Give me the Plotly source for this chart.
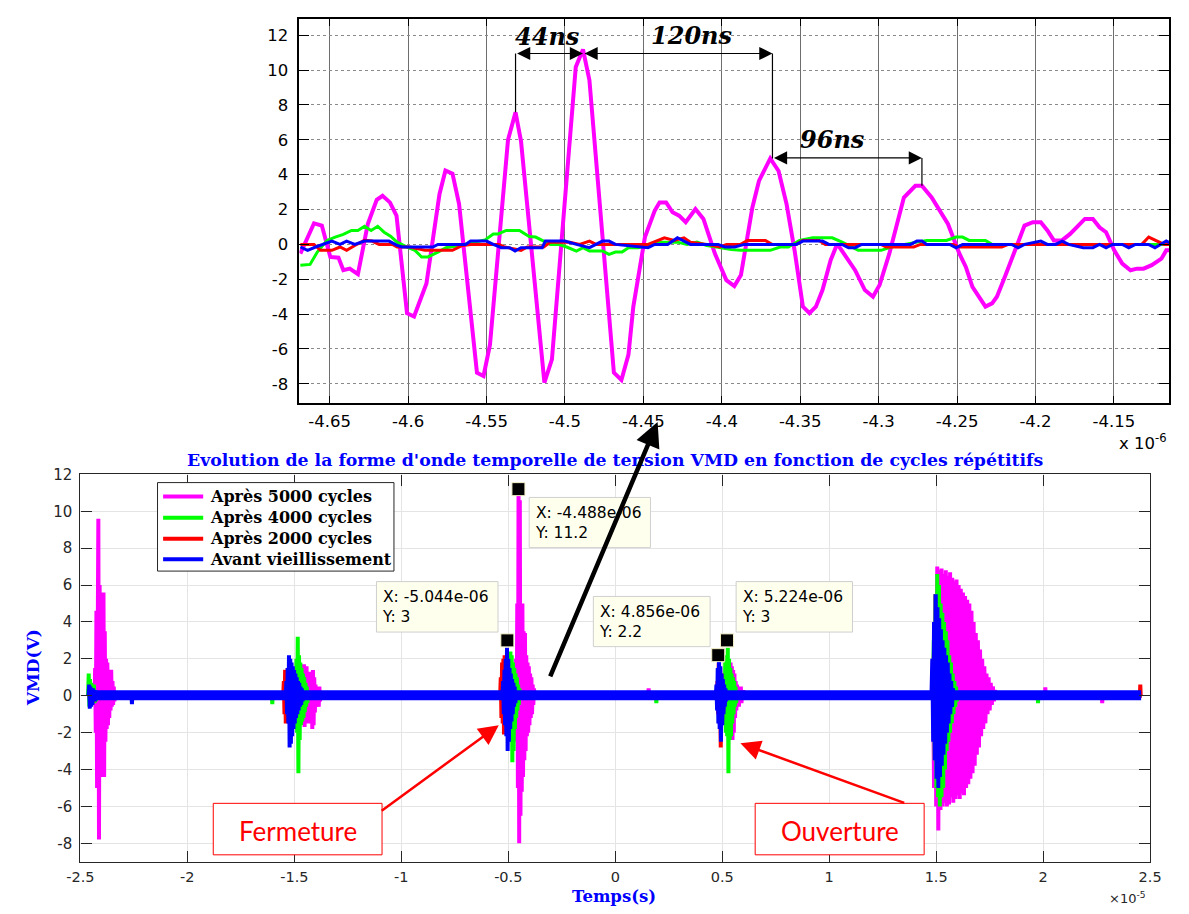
import plotly.graph_objects as go

# the page keeps the browser's default 8px body margin: the figure is sized so the page is 1189x914
OFF = 8
W, H = 1189 - 2 * OFF, 914 - 2 * OFF

# ------------------------------------------------------------------
# Bottom chart data  (time in units of 1e-5 s, VMD in volts)
# ------------------------------------------------------------------
names = ["Après 5000 cycles", "Après 4000 cycles", "Après 2000 cycles", "Avant vieillissement"]
colors = ["#FF00FF", "#00FF00", "#FF0000", "#0000FF"]

t_first, t_last = -2.466, 2.458

pink_A = (-2.440, 0.003, [0, 0.6, -0.5, 1.5, -2.0, 4.6, -5.0, 3.0, 9.6, -7.8, 6.0, -3.5, 4.8, -4.0, 5.0,
                          -4.4, 5.6, -4.4, 3.5, -2.5, 2.0, -1.8, 1.8, -1.6, 1.2, -1.2, 1.0, -0.8, 1.4, -0.6,
                          0.8, -0.5, 0.5, -0.3, 0])
pink_B = (-1.470, 0.003, [0, 0.6, -0.8, 1.2, -1.5, 1.7, -1.7, 1.5, -1.4, 1.6, -1.2, 1.0, -1.5, 1.3, -1.0,
                          0.8, -1.2, 1.2, -1.8, 1.4, -1.6, 1.0, -0.9, 0.6, -0.5, 0.5, -0.4, 0.3, -0.6, 0.5,
                          -0.3, 0.2, 0])
pink_C = (-0.479, 0.003, [0, 0.4, -0.8, 1.2, -1.5, 2.0, -2.5, 5.0, -5.0, 11.2, -8.0, 10.6, -6.5, 5.0, -5.2,
                          5.0, -4.4, 3.5, -3.5, 3.4, -3.0, 2.2, -2.2, 1.8, -2.0, 1.6, -1.6, 1.2, -1.2, 1.0,
                          -1.0, 0.6, -0.5, 0.4, 0])
pink_D = (0.530, 0.003, [0, 0.8, -1.0, 1.8, -1.5, 1.6, -2.4, 1.4, -2.0, 1.2, -1.2, 0.8, -0.8, 0.6, -0.5,
                         0.5, -0.6, 0.4, -0.3, 0.5, -0.4, 0.3, -0.2, 0.3, 0])
pink_E = (1.480, 0.005, [0, 2.0, -5.0, 5.5, -6.0, 7.0, -7.3, 6.8, -6.2, 6.9, -6.0, 6.6, -5.8, 6.8, -6.0, 6.5,
                         -5.9, 6.7, -5.5, 6.4, -5.8, 6.2, -5.6, 6.3, -5.4, 6.0, -5.6, 5.8, -5.3, 5.6, -5.4,
                         5.4, -5.0, 5.2, -4.8, 5.0, -4.5, 4.6, -4.2, 4.0, -3.8, 3.4, -3.2, 3.0, -2.8, 2.5,
                         -2.2, 2.0, -1.8, 1.6, -1.5, 1.2, -1.0, 1.0, -0.8, 0.7, -0.5, 0.5, -0.3, 0.3, 0])
pink_specks = [(0.154, 0.002, [0, 0.4, 0]), (2.008, 0.002, [0, 0.45, 0]), (2.274, 0.002, [0, -0.4, 0])]

green_A = (-2.464, 0.003, [0, 1.2, -0.6, 0.9, -0.5, 0.7, -0.4, 0.5, -0.3, 0.6, -0.4, 0.3, -0.3, 0.2, 0])
green_B = (-1.505, 0.003, [0, 0.8, -1.0, 1.5, -1.8, 2.0, -2.0, 3.2, -4.2, 2.2, -2.4, 1.8, -1.6, 1.5, -1.4,
                           1.2, -1.2, 1.0, -0.9, 0.7, -0.6, 0.5, -0.4, 0])
green_C = (-0.505, 0.003, [0, 1.0, -1.2, 2.0, -2.0, 2.4, -2.5, 2.2, -3.6, 1.8, -3.0, 1.5, -1.8, 1.2, -1.2,
                           1.0, -0.8, 0.6, -0.5, 0.4, 0])
green_D = (0.505, 0.003, [0, 1.0, -1.2, 1.8, -2.0, 2.2, -2.2, 2.6, -4.2, 2.0, -2.4, 1.5, -2.2, 1.2, -1.5,
                          1.0, -1.0, 0.8, -0.6, 0.5, -0.4, 0])
green_E = (1.485, 0.004, [0, 3.0, -3.5, 5.5, -5.0, 6.6, -5.5, 6.0, -6.0, 5.0, -5.5, 4.5, -5.0, 4.0, -4.0,
                          3.5, -3.0, 3.0, -2.5, 2.2, -2.0, 1.8, -1.5, 1.2, -1.0, 0.8, -0.6, 0.5, -0.3, 0])
green_specks = [(-1.605, 0.002, [0, -0.45, 0]), (0.190, 0.002, [0, -0.4, 0]), (1.974, 0.002, [0, -0.4, 0])]

red_A = (-2.460, 0.004, [0, 0.5, -0.5, 0.4, -0.4, 0.3, -0.3, 0])
red_B = (-1.552, 0.003, [0, 0.8, -1.0, 1.4, -1.5, 1.2, -1.3, 1.5, -1.4, 1.0, -1.2, 0.8, -0.8, 0.6, -0.5,
                         0.4, -0.3, 0])
red_C = (-0.538, 0.003, [0, 1.0, -1.2, 1.8, -1.5, 2.0, -2.1, 2.2, -1.8, 1.5, -1.4, 1.0, -1.0, 0.7, -0.5,
                         0.4, -0.3, 0])
red_D = (0.475, 0.003, [0, 0.8, -1.0, 1.8, -1.5, 1.5, -2.8, 1.2, -1.5, 0.8, -0.8, 0.5, -0.4, 0])
red_E = (1.486, 0.004, [0, 2.5, -2.0, 4.0, -3.0, 3.5, -2.8, 3.0, -2.6, 2.8, -2.2, 2.4, -2.0, 2.0, -1.8,
                        1.6, -1.4, 1.2, -1.0, 0.8, -0.6, 0.4, 0])
red_specks = [(2.452, 0.002, [0, 0.6, 0])]

blue_A = (-2.462, 0.003, [0, 0.6, -0.7, 0.5, -0.6, 0.4, -0.5, 0.4, -0.3, 0.3, -0.3, 0])
blue_B = (-1.540, 0.003, [0, 0.8, -1.0, 1.5, -1.5, 2.2, -2.8, 2.0, -2.6, 1.8, -2.2, 1.6, -1.8, 1.4, -1.5,
                          1.2, -1.2, 1.0, -1.0, 0.8, -0.8, 0.7, -0.6, 0.5, -0.5, 0.4, -0.3, 0])
blue_C = (-0.527, 0.003, [0, 0.8, -1.0, 1.4, -1.6, 2.0, -2.2, 2.6, -3.0, 2.0, -2.5, 1.5, -1.8, 1.2, -1.4,
                          0.9, -1.0, 0.7, -0.6, 0.5, -0.4, 0])
blue_D = (0.470, 0.003, [0, 0.6, -0.8, 1.5, -1.5, 2.2, -1.8, 1.6, -2.5, 1.2, -1.6, 0.9, -1.0, 0.6, -0.6,
                         0.4, -0.3, 0])
blue_E = (1.478, 0.004, [0, 2.0, -2.5, 4.0, -3.5, 5.5, -4.5, 4.8, -5.0, 4.2, -4.4, 3.6, -3.8, 3.0, -3.2,
                         2.6, -2.6, 2.2, -2.0, 1.8, -1.5, 1.2, -1.0, 0.8, -0.6, 0.4, 0])
blue_specks = [(-2.261, 0.002, [0, -0.45, 0])]

# dense baseline noise band (about -0.25 V .. +0.3 V), drawn as one thick stroke
band_t = [-2.462, 2.458]
band_v = [0.02, 0.02]

# data-tip markers and their labels
tip_t = [-0.4525, -0.5044, 0.4813, 0.5224]
tip_v = [11.2, 3.0, 2.2, 3.0]
tip_text = ["X: -4.488e-06<br>Y: 11.2", "X: -5.044e-06<br>Y: 3",
            "X: 4.856e-06<br>Y: 2.2", "X: 5.224e-06<br>Y: 3"]

x_ticks = [-2.5, -2, -1.5, -1, -0.5, 0, 0.5, 1, 1.5, 2, 2.5]
x_ticktext = ["-2.5", "-2", "-1.5", "-1", "-0.5", "0", "0.5", "1", "1.5", "2", "2.5"]
y_ticks = [-8, -6, -4, -2, 0, 2, 4, 6, 8, 10, 12]
y_ticktext = ["-8", "-6", "-4", "-2", "0", "2", "4", "6", "8", "10", "12"]

# ------------------------------------------------------------------
# Inset (zoom) data  (time in microseconds, VMD in volts)
# ------------------------------------------------------------------
pink_in_t = [-4.6687, -4.6600, -4.6550, -4.6496, -4.6444, -4.6413, -4.6372, -4.6320, -4.6257, -4.6200,
             -4.6163, -4.6116, -4.6074, -4.6007, -4.5962, -4.5883, -4.5800, -4.5762, -4.5717, -4.5675,
             -4.5561, -4.5519, -4.5478, -4.5363, -4.5315, -4.5280, -4.5131, -4.5083, -4.4931, -4.4885,
             -4.4844, -4.4688, -4.4640, -4.4595, -4.4564, -4.4490, -4.4428, -4.4397, -4.4355, -4.4314,
             -4.4272, -4.4230, -4.4168, -4.4117, -4.4044, -4.3971, -4.3920, -4.3878, -4.3805, -4.3763,
             -4.3691, -4.3638, -4.3587, -4.3535, -4.3483, -4.3441, -4.3400, -4.3358, -4.3306, -4.3264,
             -4.3150, -4.3088, -4.3036, -4.2994, -4.2932, -4.2839, -4.2766, -4.2724, -4.2662, -4.2600,
             -4.2558, -4.2485, -4.2444, -4.2402, -4.2360, -4.2319, -4.2277, -4.2246, -4.2195, -4.2132,
             -4.2070, -4.2017, -4.1966, -4.1924, -4.1883, -4.1831, -4.1779, -4.1727, -4.1685, -4.1634,
             -4.1592, -4.1550, -4.1498, -4.1447, -4.1394, -4.1353, -4.1311, -4.1259, -4.1197, -4.1166,
             -4.1124]
pink_in_v = [-0.53, 1.21, 1.08, -0.72, -0.76, -1.48, -1.39, -1.71, 1.17, 2.56,
             2.79, 2.41, 1.65, -3.95, -4.14, -2.24, 2.88, 4.24, 4.06, 2.31,
             -7.36, -7.55, -5.75, 6.00, 7.58, 5.91, -7.93, -6.60, 10.18, 11.18,
             9.42, -7.36, -7.78, -6.32, -3.57, 0.42, 1.93, 2.41, 2.41, 1.84,
             1.65, 1.27, 2.03, 1.46, -0.53, -2.05, -2.39, -1.76, 2.12, 3.64,
             4.93, 4.21, 2.31, -0.40, -3.57, -3.95, -3.57, -2.62, -0.91, 0.03,
             -1.48, -2.62, -3.00, -2.33, -0.53, 2.69, 3.36, 3.36, 2.69, 1.74,
             1.17, -0.53, -1.29, -2.43, -3.00, -3.57, -3.38, -3.00, -1.86, -0.34,
             1.08, 1.27, 1.27, 0.80, 0.23, 0.23, 0.60, 1.08, 1.46, 1.46,
             0.98, 0.70, -0.34, -1.10, -1.48, -1.39, -1.39, -1.19, -0.82, -0.34,
             -0.34]

green_in_t = [-4.6687, -4.6625, -4.6579, -4.6517, -4.6465, -4.6413, -4.6361, -4.6320, -4.6278, -4.6236,
              -4.6194, -4.6153, -4.6112, -4.6070, -4.6007, -4.5956, -4.5914, -4.5873, -4.5810, -4.5758,
              -4.5675, -4.5571, -4.5509, -4.5457, -4.5426, -4.5374, -4.5290, -4.5228, -4.5187, -4.5145,
              -4.5093, -4.5041, -4.4989, -4.4927, -4.4885, -4.4844, -4.4761, -4.4719, -4.4678, -4.4636,
              -4.4595, -4.4532, -4.4449, -4.4386, -4.4283, -4.4221, -4.4158, -4.4096, -4.4034, -4.3940,
              -4.3878, -4.3691, -4.3628, -4.3576, -4.3504, -4.3420, -4.3296, -4.3233, -4.3130, -4.2984,
              -4.2921, -4.2818, -4.2756, -4.2693, -4.2568, -4.2506, -4.2465, -4.2423, -4.2319, -4.2277,
              -4.1124]
green_in_v = [-1.20, -1.15, -0.44, 0.23, 0.42, 0.57, 0.80, 0.80, 1.04, 0.80,
              1.04, 0.70, 0.47, 0.13, -0.15, -0.34, -0.72, -0.72, -0.44, -0.19,
              -0.06, 0.13, 0.26, 0.60, 0.60, 0.80, 0.80, 0.45, 0.42, 0.23,
              0.00, 0.00, -0.15, -0.38, -0.19, -0.38, -0.38, -0.57, -0.44, -0.44,
              -0.19, -0.19, 0.00, 0.13, 0.13, 0.00, 0.13, -0.06, -0.15, -0.30,
              -0.34, -0.34, -0.15, -0.15, 0.23, 0.38, 0.38, 0.13, -0.34, -0.34,
              -0.15, 0.00, 0.13, 0.23, 0.23, 0.42, 0.42, 0.23, 0.23, 0.00,
              0.00]

red_in_t = [-4.6687, -4.6600, -4.6559, -4.6486, -4.6434, -4.6392, -4.6340, -4.6278, -4.6230, -4.6185,
            -4.6100, -4.6070, -4.5990, -4.5893, -4.5717, -4.5654, -4.5600, -4.5420, -4.5384, -4.5280,
            -4.5240, -4.5135, -4.5093, -4.4969, -4.4906, -4.4844, -4.4802, -4.4470, -4.4366, -4.4304,
            -4.4241, -4.4200, -4.4096, -4.4013, -4.3970, -4.3880, -4.3836, -4.3722, -4.3680, -4.3525,
            -4.3483, -4.3380, -4.3340, -4.2984, -4.2953, -4.2776, -4.2734, -4.2527, -4.2485, -4.2215,
            -4.2173, -4.1322, -4.1278, -4.1215, -4.1180, -4.1124]
red_in_v = [0.00, 0.00, -0.34, -0.34, -0.15, -0.34, -0.06, 0.23, 0.19, 0.00,
            0.00, -0.15, -0.15, -0.34, -0.34, -0.06, 0.00, 0.00, -0.15, -0.34,
            -0.15, -0.15, 0.13, 0.13, 0.00, 0.19, 0.00, 0.00, 0.38, 0.23,
            0.38, 0.13, 0.00, -0.15, 0.00, 0.00, 0.23, 0.23, 0.00, 0.00,
            0.23, 0.23, 0.00, 0.00, -0.15, -0.15, 0.00, 0.00, -0.15, -0.15,
            0.00, 0.00, 0.42, 0.13, 0.00, 0.00]

blue_in_t = [-4.6687, -4.6641, -4.6590, -4.6548, -4.6486, -4.6434, -4.6392, -4.6340, -4.6278, -4.6122,
             -4.6070, -4.6039, -4.5842, -4.5810, -4.5633, -4.5602, -4.5500, -4.5457, -4.5405, -4.5353,
             -4.5318, -4.5280, -4.5145, -4.5125, -4.5000, -4.4927, -4.4844, -4.4761, -4.4719, -4.4678,
             -4.4501, -4.4470, -4.4428, -4.4345, -4.4283, -4.4200, -4.4023, -4.3981, -4.3918, -4.3856,
             -4.3525, -4.3483, -4.3358, -4.3317, -4.3233, -4.3192, -4.3150, -4.3108, -4.2797, -4.2756,
             -4.2724, -4.2693, -4.2547, -4.2506, -4.2465, -4.2153, -4.2111, -4.2070, -4.1966, -4.1924,
             -4.1872, -4.1830, -4.1789, -4.1696, -4.1634, -4.1592, -4.1550, -4.1509, -4.1447, -4.1405,
             -4.1363, -4.1280, -4.1238, -4.1166, -4.1124]
blue_in_v = [-0.15, -0.34, -0.15, 0.00, 0.19, 0.00, 0.19, 0.00, 0.19, 0.19,
             -0.06, -0.15, -0.15, 0.00, 0.00, 0.19, 0.19, 0.00, -0.19, -0.19,
             -0.38, -0.19, -0.19, 0.19, 0.19, 0.00, -0.19, 0.19, 0.19, 0.00,
             -0.19, -0.19, 0.00, 0.00, 0.38, 0.00, 0.00, -0.15, -0.15, 0.00,
             0.00, 0.19, 0.19, 0.00, 0.00, -0.19, -0.19, 0.00, 0.00, 0.19,
             0.19, 0.00, 0.00, -0.19, 0.00, 0.00, -0.19, 0.00, 0.19, 0.00,
             0.00, 0.19, 0.00, -0.19, -0.19, 0.00, -0.19, 0.00, 0.00, -0.19,
             0.00, 0.00, -0.19, 0.19, 0.00]

in_x_ticks = [-4.65, -4.6, -4.55, -4.5, -4.45, -4.4, -4.35, -4.3, -4.25, -4.2, -4.15]
in_x_ticktext = ["-4.65", "-4.6", "-4.55", "-4.5", "-4.45", "-4.4", "-4.35", "-4.3", "-4.25", "-4.2", "-4.15"]

# interval markers of the inset: (left peak time, right peak time, arrow level, label, label x, label y)
intervals = [(-4.5315, -4.4885, 10.95, "44ns", -4.5114, 11.9),
             (-4.4885, -4.3677, 10.95, "120ns", -4.4189, 11.98),
             (-4.3677, -4.2724, 4.96, "96ns", -4.3295, 6.0)]
# vertical leader lines: (time, from value, to value)
leaders = [(-4.5315, 7.58, 10.95), (-4.3677, 4.93, 10.95), (-4.2724, 3.36, 4.96)]


# ------------------------------------------------------------------
def build(parts):
    t, v = [t_first], [0.0]
    for t0, dt, vals in sorted(parts, key=lambda p: p[0]):
        for i, val in enumerate(vals):
            t.append(round(t0 + i * dt, 5))
            v.append(val)
    t.append(t_last)
    v.append(0.0)
    return t, v


series_parts = [
    [pink_A, pink_B, pink_C, pink_D, pink_E] + pink_specks,
    [green_A, green_B, green_C, green_D, green_E] + green_specks,
    [red_A, red_B, red_C, red_D, red_E] + red_specks,
    [blue_A, blue_B, blue_C, blue_D, blue_E] + blue_specks,
]
inset_series = [(pink_in_t, pink_in_v, 4), (green_in_t, green_in_v, 3),
                (red_in_t, red_in_v, 3), (blue_in_t, blue_in_v, 3)]


def PX(x):  # window pixel -> paper fraction (clamped to the figure)
    return min(1.0, max(0.0, (x - OFF) / W))


def PY(y):
    return min(1.0, max(0.0, 1 - (y - OFF) / H))


fig = go.Figure()

for (t, v, w), c in zip(inset_series, colors):
    fig.add_trace(go.Scatter(x=t, y=v, mode="lines", xaxis="x2", yaxis="y2", showlegend=False,
                             line=dict(color=c, width=w), hoverinfo="skip"))

for parts, name, c in zip(series_parts, names, colors):
    t, v = build(parts)
    fig.add_trace(go.Scatter(x=t, y=v, mode="lines", name=name, showlegend=False,
                             line=dict(color=c, width=4, simplify=False), hoverinfo="skip"))

fig.add_trace(go.Scatter(x=band_t, y=band_v, mode="lines", showlegend=False,
                         line=dict(color=colors[3], width=10), hoverinfo="skip"))

fig.add_trace(go.Scatter(x=tip_t, y=tip_v, mode="markers", showlegend=False, hoverinfo="skip",
                         marker=dict(symbol="square", size=13, color="black",
                                     line=dict(color="#F4F0C8", width=1))))

tick_font = dict(family="DejaVu Sans", size=14.5, color="#262626")
in_tick_font = dict(family="DejaVu Sans", size=16.5, color="black")

# inset: 1604 px per microsecond; its right border is clipped to the figure edge (x = 1181)
in_left_px, in_right_px = 291.7, 1181.0
in_range = [-4.6693, -4.6693 + (in_right_px - in_left_px) / 1604.0]

fig.update_layout(
    width=W, height=H, autosize=False,
    margin=dict(l=0, r=0, t=0, b=0),
    paper_bgcolor="white", plot_bgcolor="white",
    showlegend=False,
    xaxis=dict(domain=[PX(67.7), PX(1161.7)], range=[-2.5, 2.5], anchor="y",
               tickmode="array", tickvals=x_ticks, ticktext=x_ticktext,
               ticks="inside", ticklen=11, tickcolor="#262626", tickwidth=1,
               showline=True, linecolor="#262626", linewidth=1.3, mirror="ticks",
               showgrid=True, gridcolor="#e4e4e4", gridwidth=1, zeroline=False,
               tickfont=tick_font, ticklabelstandoff=2),
    yaxis=dict(domain=[PY(861.3), PY(470)], range=[-9, 12], anchor="x",
               tickmode="array", tickvals=y_ticks, ticktext=y_ticktext,
               ticks="inside", ticklen=11, tickcolor="#262626", tickwidth=1,
               showline=True, linecolor="#262626", linewidth=1.3, mirror="ticks",
               showgrid=True, gridcolor="#e4e4e4", gridwidth=1, zeroline=False,
               tickfont=dict(family="DejaVu Sans", size=15, color="#262626"), ticklabelstandoff=4),
    xaxis2=dict(domain=[PX(in_left_px), PX(in_right_px)], range=in_range, anchor="y2",
                tickmode="array", tickvals=in_x_ticks, ticktext=in_x_ticktext,
                ticks="inside", ticklen=7, tickcolor="black", tickwidth=1,
                showline=True, linecolor="black", linewidth=1.8, mirror="ticks",
                showgrid=True, gridcolor="#6e6e6e", gridwidth=1, zeroline=False,
                tickfont=in_tick_font, ticklabelstandoff=2),
    yaxis2=dict(domain=[PY(398.3), PY(10)], range=[-9.12, 12.93], anchor="x2",
                tickmode="array", tickvals=y_ticks, ticktext=y_ticktext,
                ticks="inside", ticklen=10, tickcolor="black", tickwidth=1,
                showline=True, linecolor="black", linewidth=1.8, mirror="ticks",
                showgrid=True, gridcolor="#8a8a8a", griddash="dot", gridwidth=1, zeroline=False,
                tickfont=in_tick_font, ticklabelstandoff=6),
)

shapes = []
# leader lines of the inset
for tl, v0, v1 in leaders:
    shapes.append(dict(type="line", xref="x2", yref="y2", x0=tl, x1=tl, y0=v0, y1=v1,
                       line=dict(color="black", width=1.2)))
# data tip boxes
tip_boxes = [(526.7, 493.3, 650.7, 544.0), (370.5, 578.3, 494.8, 629.3),
             (592.3, 593.3, 711.7, 644.0), (738.3, 578.3, 857.3, 629.3)]
for x0, y0, x1, y1 in tip_boxes:
    shapes.append(dict(type="rect", xref="paper", yref="paper", x0=PX(x0), x1=PX(x1), y0=PY(y1), y1=PY(y0),
                       fillcolor="#FFFFEE", line=dict(color="#CFCFCF", width=1), layer="above"))
# red label boxes
red_boxes = [(203.6, 802.3, 376.2, 854.3), (757.8, 802.3, 930.6, 854.3)]
for x0, y0, x1, y1 in red_boxes:
    shapes.append(dict(type="rect", xref="paper", yref="paper", x0=PX(x0), x1=PX(x1), y0=PY(y1), y1=PY(y0),
                       fillcolor="white", line=dict(color="#FF0000", width=1), layer="above"))
# legend frame and its line samples
legend_box = (146.6, 478.3, 388.4, 567.7)
legend_rows = [492.3, 513.7, 535.0, 555.7]
shapes.append(dict(type="rect", xref="paper", yref="paper", x0=PX(legend_box[0]), x1=PX(legend_box[2]),
                   y0=PY(legend_box[3]), y1=PY(legend_box[1]), fillcolor="white",
                   line=dict(color="#262626", width=1), layer="above"))
for ry, c in zip(legend_rows, colors):
    shapes.append(dict(type="line", xref="paper", yref="paper", x0=PX(152.3), x1=PX(193.3),
                       y0=PY(ry), y1=PY(ry), line=dict(color=c, width=4), layer="above"))
fig.update_layout(shapes=shapes)

ann = []
serif_b = dict(family="DejaVu Serif", weight="bold", color="#0000FF")
ann.append(dict(text="Evolution de la forme d'onde temporelle de tension VMD en fonction de cycles répétitifs",
                x=PX(614), y=PY(455), xref="paper", yref="paper", xanchor="center", yanchor="middle",
                showarrow=False, font=dict(size=17.3, **serif_b)))
ann.append(dict(text="Temps(s)", x=PX(613), y=PY(896.5), xref="paper", yref="paper",
                xanchor="center", yanchor="middle", showarrow=False, font=dict(size=16.5, **serif_b)))
ann.append(dict(text="VMD(V)", x=PX(20), y=PY(665), xref="paper", yref="paper", textangle=-90,
                xanchor="center", yanchor="middle", showarrow=False, font=dict(size=17, **serif_b)))
ann.append(dict(text="×10<sup>-5</sup>", x=PX(1160), y=PY(898), xref="paper", yref="paper",
                xanchor="right", yanchor="middle", showarrow=False,
                font=dict(family="DejaVu Sans", size=13, color="#262626")))
ann.append(dict(text="x 10<sup>-6</sup>", x=PX(1181), y=PY(437), xref="paper", yref="paper",
                xanchor="right", yanchor="middle", showarrow=False,
                font=dict(family="DejaVu Sans", size=16.5, color="black")))

# legend labels
for ry, name in zip(legend_rows, names):
    ann.append(dict(text=name, x=PX(198), y=PY(ry), xref="paper", yref="paper", xanchor="left",
                    yanchor="middle", showarrow=False,
                    font=dict(family="DejaVu Serif", size=16, weight="bold", color="black")))

# inset interval arrows and labels
for ta, tb, lev, lab, lx, ly in intervals:
    ann.append(dict(x=tb, y=lev, ax=ta, ay=lev, xref="x2", yref="y2", axref="x2", ayref="y2",
                    text="", showarrow=True, arrowhead=2, arrowside="end+start", arrowsize=2.2,
                    arrowwidth=1.2, arrowcolor="black", standoff=0, startstandoff=0))
    ann.append(dict(x=lx, y=ly, xref="x2", yref="y2", text=lab, showarrow=False,
                    xanchor="center", yanchor="middle",
                    font=dict(family="DejaVu Serif", size=24, weight="bold", style="italic", color="black")))

# data tip texts
for (x0, y0, x1, y1), txt in zip(tip_boxes, tip_text):
    ann.append(dict(x=PX(x0 + 4), y=PY((y0 + y1) / 2), xref="paper", yref="paper", text=txt,
                    showarrow=False, xanchor="left", yanchor="middle", align="left",
                    font=dict(family="DejaVu Sans", size=15.5, color="black")))

# red labels with arrows
ann.append(dict(x=PX(290), y=PY(830), xref="paper", yref="paper", text="Fermeture", showarrow=False,
                xanchor="center", yanchor="middle", font=dict(family="Lato", size=26, color="#FF0000")))
ann.append(dict(x=PX(844.2), y=PY(830), xref="paper", yref="paper", text="Ouverture", showarrow=False,
                xanchor="center", yanchor="middle", font=dict(family="Lato", size=26, color="#FF0000")))
ann.append(dict(x=PX(495.6), y=PY(723.3), xref="paper", yref="paper", ax=-118.6, ay=86.7,
                text="", showarrow=True, arrowhead=2, arrowsize=1.6, arrowwidth=2.5, arrowcolor="#FF0000",
                standoff=0))
ann.append(dict(x=PX(742.7), y=PY(741.7), xref="paper", yref="paper", ax=165.3, ay=60,
                text="", showarrow=True, arrowhead=2, arrowsize=1.6, arrowwidth=2.5, arrowcolor="#FF0000",
                standoff=0))
# big black arrow toward the zoom
ann.append(dict(x=PX(658), y=PY(417), xref="paper", yref="paper", ax=-108, ay=256,
                text="", showarrow=True, arrowhead=2, arrowsize=1.1, arrowwidth=4.5, arrowcolor="black",
                standoff=0))

fig.update_layout(annotations=ann)

fig.write_html("out.html", config={"displayModeBar": False})
